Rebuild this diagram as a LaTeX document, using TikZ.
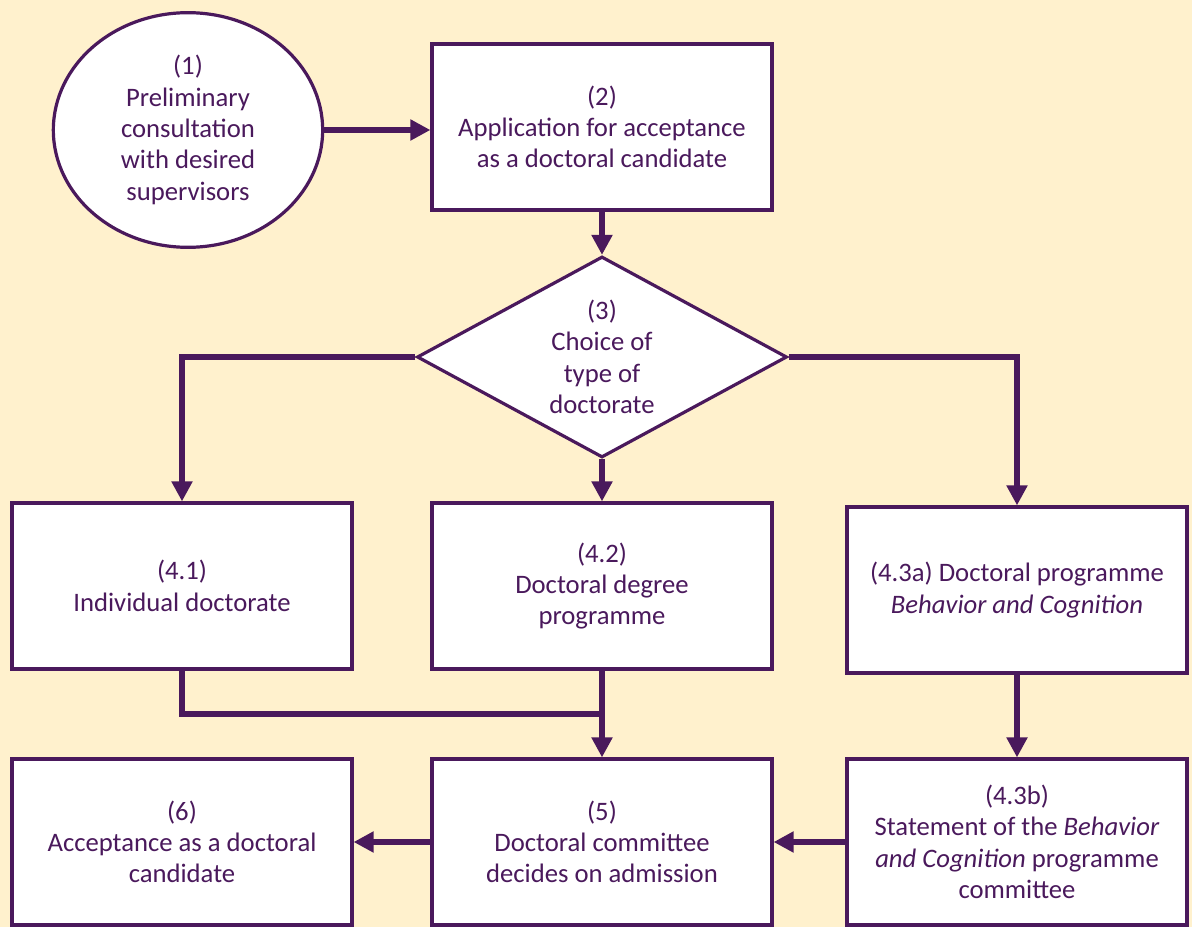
\documentclass[tikz,border=0pt]{standalone}
\usepackage{fontspec}
\setmainfont{Carlito}
\usetikzlibrary{shapes.geometric,arrows.meta}
\definecolor{purp}{RGB}{74,25,92}
\definecolor{bg}{RGB}{255,241,205}
\tikzset{
  txt/.style={align=center, text=purp, font=\fontsize{20}{23.5}\selectfont},
  box/.style={txt, draw=purp, line width=2.4pt, fill=white, minimum width=255pt, minimum height=124.5pt, inner sep=0pt},
  oval/.style={txt, ellipse, draw=purp, line width=2.4pt, fill=white, minimum width=202pt, minimum height=176pt, inner sep=0pt},
  choice/.style={txt, diamond, aspect=1.84, draw=purp, line width=2.4pt, fill=white, minimum width=277.5pt, minimum height=150.75pt, inner sep=0pt},
  conn/.style={draw=purp, line width=4.9pt, line join=miter, -{Triangle[length=15pt,width=15pt]}},
  plain/.style={draw=purp, line width=4.9pt, line join=miter}
}
\begin{document}
\begin{tikzpicture}[x=0.75pt,y=-0.75pt]
\fill[bg] (0,0) rectangle (1192,927);
\useasboundingbox (0,0) rectangle (1192,927);
\node[oval] (n1) at (188,130) {(1)\\Preliminary\\consultation\\with desired\\supervisors};
\node[box] (n2) at (602,127) {(2)\\Application for acceptance\\as a doctoral candidate};
\node[choice] (n3) at (602,357) {(3)\\Choice of\\type of\\doctorate};
\node[box] (n41) at (182,586) {(4.1)\\Individual doctorate};
\node[box] (n42) at (602,586) {(4.2)\\Doctoral degree\\programme};
\node[box] (n43a) at (1017,590) {(4.3a) Doctoral programme\\\textit{Behavior and Cognition}};
\node[box] (n6) at (182,842) {(6)\\Acceptance as a doctoral\\candidate};
\node[box] (n5) at (602,842) {(5)\\Doctoral committee\\decides on admission};
\node[box] (n43b) at (1017,842) {(4.3b)\\Statement of the \textit{Behavior}\\\textit{and Cognition} programme\\committee};
\coordinate (j) at (602,714);
\draw[conn] (n1.east) -- (n1.east -| n2.west);
\draw[conn] (n2.south) -- (n3.north);
\draw[conn] (n3.west) -| (n41.north);
\draw[conn] (n3.east) -| (n43a.north);
\draw[conn] (n3.south) -- (n42.north);
\draw[plain] (n41.south) |- (j);
\draw[conn] (n42.south) -- (n5.north);
\draw[conn] (n43a.south) -- (n43b.north);
\draw[conn] (n43b.west) -- (n5.east);
\draw[conn] (n5.west) -- (n6.east);
\end{tikzpicture}
\end{document}
